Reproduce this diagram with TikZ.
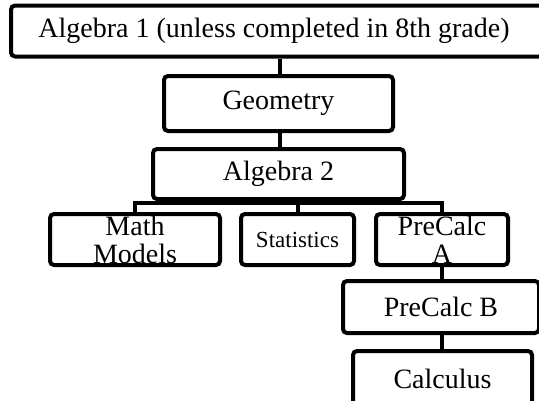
\documentclass[tikz,border=0pt]{standalone}
\usepackage{fontspec}
\setmainfont{Liberation Serif}
\usepackage{tikz}
\usetikzlibrary{positioning, calc}
\tikzset{
    course/.style={draw=black, line width=4pt, rounded corners=4pt, fill=white, align=center, inner sep=0pt,
        font=\fontsize{28}{28}\selectfont},
    link/.style={draw=black, line width=4pt}
}

\begin{document}
\begin{tikzpicture}[x=1pt, y=-1pt]
        \useasboundingbox (0,0) rectangle (539,400);
        \clip (0,0) rectangle (539,400);
        \node[course, minimum width=536pt, minimum height=51pt] (alg1) at (279,31) {Algebra 1 (unless completed in 8th grade)\hspace{10pt}};
        \node[course, minimum width=229pt, minimum height=55pt] (geo) at (278.5,103.5) {Geometry};
        \node[course, minimum width=251pt, minimum height=50pt] (alg2) at (278.5,174) {Algebra 2};
        \node[course, minimum width=170pt, minimum height=51pt] (models) at (135,239.5) {Math\\Models};
        \node[course, minimum width=113pt, minimum height=51pt, font=\fontsize{23}{26}\selectfont] (stats) at (297.5,239.5) {Statistics};
        \node[course, minimum width=132pt, minimum height=51pt] (pcA) at (442,239.5) {PreCalc\\A};
        \node[course, minimum width=196pt, minimum height=52pt] (pcB) at (441,307) {PreCalc B};
        \node[course, minimum width=179pt, minimum height=56pt] (calc) at (442.5,379) {Calculus};
        \coordinate (bar) at (280,203);

        % connectors
        \draw[link] (alg1.south -| bar) -- (geo.north -| bar);
        \draw[link] (geo.south -| bar) -- (alg2.north -| bar);
        \draw[link] (alg2.south -| bar) -- (bar);
        \draw[link] (models.north) |- (bar) -| (pcA.north);
        \draw[link] (stats.north) -- (stats.north |- bar);
        \draw[link] (pcA.south) -- (pcA.south |- pcB.north);
        \draw[link] (pcA.south |- pcB.south) -- (pcA.south |- calc.north);
    \end{tikzpicture}
\end{document}
